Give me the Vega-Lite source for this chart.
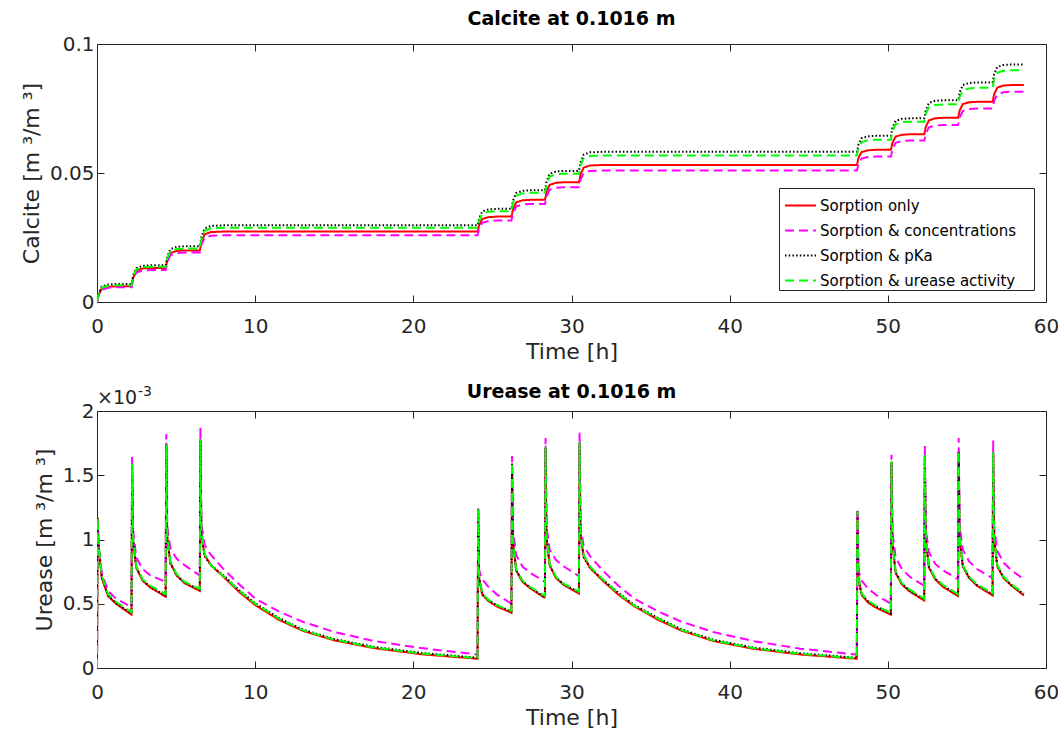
{
"$schema": "https://vega.github.io/schema/vega-lite/v6.json",
"background": "white",
"padding": {"left": 20, "top": 10, "right": 12, "bottom": 4},
"spacing": 21,
"resolve": {"scale": {"color": "independent", "strokeDash": "independent"}},
"config": {
  "font": "DejaVu Sans",
  "view": {"stroke": null},
  "axis": {"grid": false, "labelFlush": false, "domainColor": "#262626", "tickColor": "#262626", "labelColor": "#262626", "titleColor": "#262626", "labelFontSize": 20, "titleFontSize": 22, "titleFontWeight": "normal", "tickSize": -7, "labelFont": "DejaVu Sans", "titleFont": "DejaVu Sans"},
  "axisX": {"labelPadding": 21, "titlePadding": 5},
  "axisY": {"labelPadding": 10, "titlePadding": 6},
  "title": {"fontSize": 19, "fontWeight": "bold", "color": "#000000", "font": "DejaVu Sans"},
  "legend": {"orient": "bottom-right", "offset": 12, "strokeColor": "#262626", "fillColor": "white", "padding": 1, "labelFontSize": 15, "labelFont": "DejaVu Sans", "labelColor": "#000000", "symbolType": "stroke", "symbolSize": 961, "symbolStrokeWidth": 2, "rowPadding": -6.5, "symbolOffset": 4, "labelOffset": 3, "labelLimit": 400, "cornerRadius": 0, "titleOrient": "right", "titleFontSize": 1, "titlePadding": 17, "titleColor": "white"}
},
"datasets": {"d": [
{"t":0,"s":"Sorption only","c":0,"u":0},
{"t":0.04,"s":"Sorption only","c":0.0009,"u":1.17e-3},
{"t":0.1,"s":"Sorption only","c":0.0027,"u":0.95e-3},
{"t":0.3,"s":"Sorption only","c":0.0052,"u":0.70e-3},
{"t":0.7,"s":"Sorption only","c":0.0059,"u":0.56e-3},
{"t":1.2,"s":"Sorption only","c":0.0061,"u":0.50e-3},
{"t":2.18,"s":"Sorption only","c":0.0061,"u":0.415e-3},
{"t":2.22,"s":"Sorption only","c":0.0072,"u":1.58e-3},
{"t":2.28,"s":"Sorption only","c":0.0093,"u":1.0e-3},
{"t":2.48,"s":"Sorption only","c":0.0121,"u":0.78e-3},
{"t":2.88,"s":"Sorption only","c":0.0130,"u":0.68e-3},
{"t":3.38,"s":"Sorption only","c":0.0132,"u":0.625e-3},
{"t":4.34,"s":"Sorption only","c":0.0132,"u":0.555e-3},
{"t":4.38,"s":"Sorption only","c":0.0142,"u":1.73e-3},
{"t":4.44,"s":"Sorption only","c":0.0163,"u":1.02e-3},
{"t":4.64,"s":"Sorption only","c":0.0190,"u":0.82e-3},
{"t":5.04,"s":"Sorption only","c":0.0198,"u":0.72e-3},
{"t":5.54,"s":"Sorption only","c":0.0200,"u":0.66e-3},
{"t":6.5,"s":"Sorption only","c":0.0200,"u":0.60e-3},
{"t":6.54,"s":"Sorption only","c":0.0211,"u":1.77e-3},
{"t":6.6,"s":"Sorption only","c":0.0233,"u":1.05e-3},
{"t":6.8,"s":"Sorption only","c":0.0262,"u":0.88e-3},
{"t":7.2,"s":"Sorption only","c":0.0271,"u":0.80e-3},
{"t":8.0,"s":"Sorption only","c":0.0273,"u":0.71e-3},
{"t":9.0,"s":"Sorption only","c":0.0273,"u":0.59e-3},
{"t":10.0,"s":"Sorption only","c":0.0273,"u":0.49e-3},
{"t":11.5,"s":"Sorption only","c":0.0273,"u":0.375e-3},
{"t":13.0,"s":"Sorption only","c":0.0273,"u":0.29e-3},
{"t":15.0,"s":"Sorption only","c":0.0273,"u":0.215e-3},
{"t":17.5,"s":"Sorption only","c":0.0273,"u":0.155e-3},
{"t":20.5,"s":"Sorption only","c":0.0273,"u":0.107e-3},
{"t":24.06,"s":"Sorption only","c":0.0273,"u":0.072e-3},
{"t":24.1,"s":"Sorption only","c":0.0282,"u":1.24e-3},
{"t":24.16,"s":"Sorption only","c":0.0299,"u":0.70e-3},
{"t":24.36,"s":"Sorption only","c":0.0322,"u":0.57e-3},
{"t":24.76,"s":"Sorption only","c":0.0329,"u":0.52e-3},
{"t":25.26,"s":"Sorption only","c":0.0331,"u":0.48e-3},
{"t":26.2,"s":"Sorption only","c":0.0331,"u":0.43e-3},
{"t":26.24,"s":"Sorption only","c":0.0341,"u":1.59e-3},
{"t":26.3,"s":"Sorption only","c":0.0360,"u":1.0e-3},
{"t":26.5,"s":"Sorption only","c":0.0386,"u":0.76e-3},
{"t":26.9,"s":"Sorption only","c":0.0394,"u":0.67e-3},
{"t":27.4,"s":"Sorption only","c":0.0396,"u":0.62e-3},
{"t":28.32,"s":"Sorption only","c":0.0396,"u":0.545e-3},
{"t":28.36,"s":"Sorption only","c":0.0406,"u":1.71e-3},
{"t":28.42,"s":"Sorption only","c":0.0427,"u":1.02e-3},
{"t":28.62,"s":"Sorption only","c":0.0454,"u":0.80e-3},
{"t":29.02,"s":"Sorption only","c":0.0462,"u":0.70e-3},
{"t":29.52,"s":"Sorption only","c":0.0464,"u":0.645e-3},
{"t":30.47,"s":"Sorption only","c":0.0464,"u":0.58e-3},
{"t":30.51,"s":"Sorption only","c":0.0474,"u":1.75e-3},
{"t":30.57,"s":"Sorption only","c":0.0494,"u":1.04e-3},
{"t":30.77,"s":"Sorption only","c":0.0521,"u":0.87e-3},
{"t":31.17,"s":"Sorption only","c":0.0529,"u":0.78e-3},
{"t":31.97,"s":"Sorption only","c":0.0531,"u":0.68e-3},
{"t":32.97,"s":"Sorption only","c":0.0531,"u":0.57e-3},
{"t":33.97,"s":"Sorption only","c":0.0531,"u":0.48e-3},
{"t":35.47,"s":"Sorption only","c":0.0531,"u":0.375e-3},
{"t":36.97,"s":"Sorption only","c":0.0531,"u":0.29e-3},
{"t":38.97,"s":"Sorption only","c":0.0531,"u":0.21e-3},
{"t":41.47,"s":"Sorption only","c":0.0531,"u":0.15e-3},
{"t":44.47,"s":"Sorption only","c":0.0531,"u":0.105e-3},
{"t":48.04,"s":"Sorption only","c":0.0531,"u":0.072e-3},
{"t":48.08,"s":"Sorption only","c":0.0540,"u":1.22e-3},
{"t":48.14,"s":"Sorption only","c":0.0558,"u":0.70e-3},
{"t":48.34,"s":"Sorption only","c":0.0581,"u":0.57e-3},
{"t":48.74,"s":"Sorption only","c":0.0588,"u":0.51e-3},
{"t":49.24,"s":"Sorption only","c":0.0590,"u":0.47e-3},
{"t":50.19,"s":"Sorption only","c":0.0590,"u":0.415e-3},
{"t":50.23,"s":"Sorption only","c":0.0599,"u":1.60e-3},
{"t":50.29,"s":"Sorption only","c":0.0617,"u":0.98e-3},
{"t":50.49,"s":"Sorption only","c":0.0641,"u":0.74e-3},
{"t":50.89,"s":"Sorption only","c":0.0648,"u":0.65e-3},
{"t":51.39,"s":"Sorption only","c":0.0650,"u":0.595e-3},
{"t":52.3,"s":"Sorption only","c":0.0650,"u":0.525e-3},
{"t":52.34,"s":"Sorption only","c":0.0660,"u":1.65e-3},
{"t":52.4,"s":"Sorption only","c":0.0679,"u":1.0e-3},
{"t":52.6,"s":"Sorption only","c":0.0704,"u":0.78e-3},
{"t":53.0,"s":"Sorption only","c":0.0712,"u":0.69e-3},
{"t":53.5,"s":"Sorption only","c":0.0714,"u":0.63e-3},
{"t":54.44,"s":"Sorption only","c":0.0714,"u":0.56e-3},
{"t":54.48,"s":"Sorption only","c":0.0723,"u":1.68e-3},
{"t":54.54,"s":"Sorption only","c":0.0742,"u":1.01e-3},
{"t":54.74,"s":"Sorption only","c":0.0767,"u":0.79e-3},
{"t":55.14,"s":"Sorption only","c":0.0774,"u":0.70e-3},
{"t":55.64,"s":"Sorption only","c":0.0776,"u":0.64e-3},
{"t":56.62,"s":"Sorption only","c":0.0776,"u":0.565e-3},
{"t":56.66,"s":"Sorption only","c":0.0786,"u":1.67e-3},
{"t":56.72,"s":"Sorption only","c":0.0805,"u":1.01e-3},
{"t":56.92,"s":"Sorption only","c":0.0831,"u":0.79e-3},
{"t":57.32,"s":"Sorption only","c":0.0839,"u":0.70e-3},
{"t":57.82,"s":"Sorption only","c":0.0841,"u":0.64e-3},
{"t":58.6,"s":"Sorption only","c":0.0841,"u":0.565e-3},

{"t":0,"s":"Sorption & concentrations","c":0,"u":0},
{"t":0.04,"s":"Sorption & concentrations","c":0.0009,"u":1.16e-3},
{"t":0.1,"s":"Sorption & concentrations","c":0.0026,"u":0.96e-3},
{"t":0.3,"s":"Sorption & concentrations","c":0.0048,"u":0.74e-3},
{"t":0.7,"s":"Sorption & concentrations","c":0.0055,"u":0.60e-3},
{"t":1.2,"s":"Sorption & concentrations","c":0.0057,"u":0.54e-3},
{"t":2.18,"s":"Sorption & concentrations","c":0.0057,"u":0.475e-3},
{"t":2.22,"s":"Sorption & concentrations","c":0.0067,"u":1.65e-3},
{"t":2.28,"s":"Sorption & concentrations","c":0.0087,"u":1.08e-3},
{"t":2.48,"s":"Sorption & concentrations","c":0.0114,"u":0.86e-3},
{"t":2.88,"s":"Sorption & concentrations","c":0.0122,"u":0.77e-3},
{"t":3.38,"s":"Sorption & concentrations","c":0.0124,"u":0.72e-3},
{"t":4.34,"s":"Sorption & concentrations","c":0.0124,"u":0.67e-3},
{"t":4.38,"s":"Sorption & concentrations","c":0.0134,"u":1.82e-3},
{"t":4.44,"s":"Sorption & concentrations","c":0.0155,"u":1.1e-3},
{"t":4.64,"s":"Sorption & concentrations","c":0.0182,"u":0.93e-3},
{"t":5.04,"s":"Sorption & concentrations","c":0.0190,"u":0.85e-3},
{"t":5.54,"s":"Sorption & concentrations","c":0.0192,"u":0.80e-3},
{"t":6.5,"s":"Sorption & concentrations","c":0.0192,"u":0.72e-3},
{"t":6.54,"s":"Sorption & concentrations","c":0.0202,"u":1.87e-3},
{"t":6.6,"s":"Sorption & concentrations","c":0.0222,"u":1.12e-3},
{"t":6.8,"s":"Sorption & concentrations","c":0.0249,"u":0.96e-3},
{"t":7.2,"s":"Sorption & concentrations","c":0.0257,"u":0.88e-3},
{"t":8.0,"s":"Sorption & concentrations","c":0.0259,"u":0.77e-3},
{"t":9.0,"s":"Sorption & concentrations","c":0.0259,"u":0.65e-3},
{"t":10.0,"s":"Sorption & concentrations","c":0.0259,"u":0.54e-3},
{"t":11.5,"s":"Sorption & concentrations","c":0.0259,"u":0.44e-3},
{"t":13.0,"s":"Sorption & concentrations","c":0.0259,"u":0.36e-3},
{"t":15.0,"s":"Sorption & concentrations","c":0.0259,"u":0.28e-3},
{"t":17.5,"s":"Sorption & concentrations","c":0.0259,"u":0.21e-3},
{"t":20.5,"s":"Sorption & concentrations","c":0.0259,"u":0.155e-3},
{"t":24.06,"s":"Sorption & concentrations","c":0.0259,"u":0.105e-3},
{"t":24.1,"s":"Sorption & concentrations","c":0.0268,"u":1.25e-3},
{"t":24.16,"s":"Sorption & concentrations","c":0.0285,"u":0.76e-3},
{"t":24.36,"s":"Sorption & concentrations","c":0.0307,"u":0.69e-3},
{"t":24.76,"s":"Sorption & concentrations","c":0.0314,"u":0.63e-3},
{"t":25.26,"s":"Sorption & concentrations","c":0.0316,"u":0.575e-3},
{"t":26.2,"s":"Sorption & concentrations","c":0.0316,"u":0.50e-3},
{"t":26.24,"s":"Sorption & concentrations","c":0.0326,"u":1.65e-3},
{"t":26.3,"s":"Sorption & concentrations","c":0.0345,"u":1.08e-3},
{"t":26.5,"s":"Sorption & concentrations","c":0.0370,"u":0.88e-3},
{"t":26.9,"s":"Sorption & concentrations","c":0.0378,"u":0.79e-3},
{"t":27.4,"s":"Sorption & concentrations","c":0.0380,"u":0.74e-3},
{"t":28.32,"s":"Sorption & concentrations","c":0.0380,"u":0.67e-3},
{"t":28.36,"s":"Sorption & concentrations","c":0.0390,"u":1.79e-3},
{"t":28.42,"s":"Sorption & concentrations","c":0.0409,"u":1.1e-3},
{"t":28.62,"s":"Sorption & concentrations","c":0.0435,"u":0.92e-3},
{"t":29.02,"s":"Sorption & concentrations","c":0.0443,"u":0.84e-3},
{"t":29.52,"s":"Sorption & concentrations","c":0.0445,"u":0.79e-3},
{"t":30.47,"s":"Sorption & concentrations","c":0.0445,"u":0.715e-3},
{"t":30.51,"s":"Sorption & concentrations","c":0.0455,"u":1.83e-3},
{"t":30.57,"s":"Sorption & concentrations","c":0.0474,"u":1.1e-3},
{"t":30.77,"s":"Sorption & concentrations","c":0.0500,"u":0.95e-3},
{"t":31.17,"s":"Sorption & concentrations","c":0.0508,"u":0.87e-3},
{"t":31.97,"s":"Sorption & concentrations","c":0.0510,"u":0.76e-3},
{"t":32.97,"s":"Sorption & concentrations","c":0.0510,"u":0.64e-3},
{"t":33.97,"s":"Sorption & concentrations","c":0.0510,"u":0.54e-3},
{"t":35.47,"s":"Sorption & concentrations","c":0.0510,"u":0.44e-3},
{"t":36.97,"s":"Sorption & concentrations","c":0.0510,"u":0.36e-3},
{"t":38.97,"s":"Sorption & concentrations","c":0.0510,"u":0.28e-3},
{"t":41.47,"s":"Sorption & concentrations","c":0.0510,"u":0.21e-3},
{"t":44.47,"s":"Sorption & concentrations","c":0.0510,"u":0.15e-3},
{"t":48.04,"s":"Sorption & concentrations","c":0.0510,"u":0.105e-3},
{"t":48.08,"s":"Sorption & concentrations","c":0.0518,"u":1.24e-3},
{"t":48.14,"s":"Sorption & concentrations","c":0.0534,"u":0.76e-3},
{"t":48.34,"s":"Sorption & concentrations","c":0.0556,"u":0.68e-3},
{"t":48.74,"s":"Sorption & concentrations","c":0.0562,"u":0.62e-3},
{"t":49.24,"s":"Sorption & concentrations","c":0.0564,"u":0.57e-3},
{"t":50.19,"s":"Sorption & concentrations","c":0.0564,"u":0.50e-3},
{"t":50.23,"s":"Sorption & concentrations","c":0.0573,"u":1.66e-3},
{"t":50.29,"s":"Sorption & concentrations","c":0.0592,"u":1.06e-3},
{"t":50.49,"s":"Sorption & concentrations","c":0.0617,"u":0.86e-3},
{"t":50.89,"s":"Sorption & concentrations","c":0.0624,"u":0.77e-3},
{"t":51.39,"s":"Sorption & concentrations","c":0.0626,"u":0.71e-3},
{"t":52.3,"s":"Sorption & concentrations","c":0.0626,"u":0.64e-3},
{"t":52.34,"s":"Sorption & concentrations","c":0.0635,"u":1.73e-3},
{"t":52.4,"s":"Sorption & concentrations","c":0.0653,"u":1.08e-3},
{"t":52.6,"s":"Sorption & concentrations","c":0.0677,"u":0.90e-3},
{"t":53.0,"s":"Sorption & concentrations","c":0.0684,"u":0.81e-3},
{"t":53.5,"s":"Sorption & concentrations","c":0.0686,"u":0.76e-3},
{"t":54.44,"s":"Sorption & concentrations","c":0.0686,"u":0.69e-3},
{"t":54.48,"s":"Sorption & concentrations","c":0.0696,"u":1.79e-3},
{"t":54.54,"s":"Sorption & concentrations","c":0.0715,"u":1.1e-3},
{"t":54.74,"s":"Sorption & concentrations","c":0.0740,"u":0.92e-3},
{"t":55.14,"s":"Sorption & concentrations","c":0.0748,"u":0.83e-3},
{"t":55.64,"s":"Sorption & concentrations","c":0.0750,"u":0.77e-3},
{"t":56.62,"s":"Sorption & concentrations","c":0.0750,"u":0.70e-3},
{"t":56.66,"s":"Sorption & concentrations","c":0.0760,"u":1.77e-3},
{"t":56.72,"s":"Sorption & concentrations","c":0.0779,"u":1.1e-3},
{"t":56.92,"s":"Sorption & concentrations","c":0.0805,"u":0.91e-3},
{"t":57.32,"s":"Sorption & concentrations","c":0.0813,"u":0.82e-3},
{"t":57.82,"s":"Sorption & concentrations","c":0.0815,"u":0.76e-3},
{"t":58.6,"s":"Sorption & concentrations","c":0.0815,"u":0.69e-3},

{"t":0,"s":"Sorption & pKa","c":0,"u":0},
{"t":0.04,"s":"Sorption & pKa","c":0.0011,"u":1.17e-3},
{"t":0.1,"s":"Sorption & pKa","c":0.0032,"u":0.95e-3},
{"t":0.3,"s":"Sorption & pKa","c":0.0060,"u":0.71e-3},
{"t":0.7,"s":"Sorption & pKa","c":0.0068,"u":0.565e-3},
{"t":1.2,"s":"Sorption & pKa","c":0.0070,"u":0.505e-3},
{"t":2.18,"s":"Sorption & pKa","c":0.0070,"u":0.425e-3},
{"t":2.22,"s":"Sorption & pKa","c":0.0081,"u":1.58e-3},
{"t":2.28,"s":"Sorption & pKa","c":0.0102,"u":1.0e-3},
{"t":2.48,"s":"Sorption & pKa","c":0.0131,"u":0.785e-3},
{"t":2.88,"s":"Sorption & pKa","c":0.0140,"u":0.685e-3},
{"t":3.38,"s":"Sorption & pKa","c":0.0142,"u":0.63e-3},
{"t":4.34,"s":"Sorption & pKa","c":0.0142,"u":0.565e-3},
{"t":4.38,"s":"Sorption & pKa","c":0.0153,"u":1.74e-3},
{"t":4.44,"s":"Sorption & pKa","c":0.0175,"u":1.02e-3},
{"t":4.64,"s":"Sorption & pKa","c":0.0205,"u":0.81e-3},
{"t":5.04,"s":"Sorption & pKa","c":0.0214,"u":0.72e-3},
{"t":5.54,"s":"Sorption & pKa","c":0.0216,"u":0.665e-3},
{"t":6.5,"s":"Sorption & pKa","c":0.0216,"u":0.61e-3},
{"t":6.54,"s":"Sorption & pKa","c":0.0228,"u":1.77e-3},
{"t":6.6,"s":"Sorption & pKa","c":0.0252,"u":1.04e-3},
{"t":6.8,"s":"Sorption & pKa","c":0.0285,"u":0.87e-3},
{"t":7.2,"s":"Sorption & pKa","c":0.0295,"u":0.80e-3},
{"t":8.0,"s":"Sorption & pKa","c":0.0297,"u":0.72e-3},
{"t":9.0,"s":"Sorption & pKa","c":0.0297,"u":0.605e-3},
{"t":10.0,"s":"Sorption & pKa","c":0.0297,"u":0.505e-3},
{"t":11.5,"s":"Sorption & pKa","c":0.0297,"u":0.39e-3},
{"t":13.0,"s":"Sorption & pKa","c":0.0297,"u":0.30e-3},
{"t":15.0,"s":"Sorption & pKa","c":0.0297,"u":0.225e-3},
{"t":17.5,"s":"Sorption & pKa","c":0.0297,"u":0.165e-3},
{"t":20.5,"s":"Sorption & pKa","c":0.0297,"u":0.118e-3},
{"t":24.06,"s":"Sorption & pKa","c":0.0297,"u":0.08e-3},
{"t":24.1,"s":"Sorption & pKa","c":0.0307,"u":1.24e-3},
{"t":24.16,"s":"Sorption & pKa","c":0.0326,"u":0.70e-3},
{"t":24.36,"s":"Sorption & pKa","c":0.0351,"u":0.575e-3},
{"t":24.76,"s":"Sorption & pKa","c":0.0359,"u":0.525e-3},
{"t":25.26,"s":"Sorption & pKa","c":0.0361,"u":0.49e-3},
{"t":26.2,"s":"Sorption & pKa","c":0.0361,"u":0.44e-3},
{"t":26.24,"s":"Sorption & pKa","c":0.0372,"u":1.59e-3},
{"t":26.3,"s":"Sorption & pKa","c":0.0393,"u":1.0e-3},
{"t":26.5,"s":"Sorption & pKa","c":0.0422,"u":0.76e-3},
{"t":26.9,"s":"Sorption & pKa","c":0.0431,"u":0.675e-3},
{"t":27.4,"s":"Sorption & pKa","c":0.0433,"u":0.625e-3},
{"t":28.32,"s":"Sorption & pKa","c":0.0433,"u":0.55e-3},
{"t":28.36,"s":"Sorption & pKa","c":0.0444,"u":1.71e-3},
{"t":28.42,"s":"Sorption & pKa","c":0.0467,"u":1.02e-3},
{"t":28.62,"s":"Sorption & pKa","c":0.0497,"u":0.80e-3},
{"t":29.02,"s":"Sorption & pKa","c":0.0506,"u":0.705e-3},
{"t":29.52,"s":"Sorption & pKa","c":0.0508,"u":0.65e-3},
{"t":30.47,"s":"Sorption & pKa","c":0.0508,"u":0.59e-3},
{"t":30.51,"s":"Sorption & pKa","c":0.0519,"u":1.75e-3},
{"t":30.57,"s":"Sorption & pKa","c":0.0541,"u":1.03e-3},
{"t":30.77,"s":"Sorption & pKa","c":0.0571,"u":0.86e-3},
{"t":31.17,"s":"Sorption & pKa","c":0.0580,"u":0.78e-3},
{"t":31.97,"s":"Sorption & pKa","c":0.0582,"u":0.69e-3},
{"t":32.97,"s":"Sorption & pKa","c":0.0582,"u":0.585e-3},
{"t":33.97,"s":"Sorption & pKa","c":0.0582,"u":0.49e-3},
{"t":35.47,"s":"Sorption & pKa","c":0.0582,"u":0.39e-3},
{"t":36.97,"s":"Sorption & pKa","c":0.0582,"u":0.30e-3},
{"t":38.97,"s":"Sorption & pKa","c":0.0582,"u":0.22e-3},
{"t":41.47,"s":"Sorption & pKa","c":0.0582,"u":0.16e-3},
{"t":44.47,"s":"Sorption & pKa","c":0.0582,"u":0.115e-3},
{"t":48.04,"s":"Sorption & pKa","c":0.0582,"u":0.08e-3},
{"t":48.08,"s":"Sorption & pKa","c":0.0591,"u":1.22e-3},
{"t":48.14,"s":"Sorption & pKa","c":0.0610,"u":0.70e-3},
{"t":48.34,"s":"Sorption & pKa","c":0.0635,"u":0.575e-3},
{"t":48.74,"s":"Sorption & pKa","c":0.0642,"u":0.52e-3},
{"t":49.24,"s":"Sorption & pKa","c":0.0644,"u":0.48e-3},
{"t":50.19,"s":"Sorption & pKa","c":0.0644,"u":0.425e-3},
{"t":50.23,"s":"Sorption & pKa","c":0.0654,"u":1.60e-3},
{"t":50.29,"s":"Sorption & pKa","c":0.0675,"u":0.98e-3},
{"t":50.49,"s":"Sorption & pKa","c":0.0702,"u":0.745e-3},
{"t":50.89,"s":"Sorption & pKa","c":0.0710,"u":0.655e-3},
{"t":51.39,"s":"Sorption & pKa","c":0.0712,"u":0.60e-3},
{"t":52.3,"s":"Sorption & pKa","c":0.0712,"u":0.535e-3},
{"t":52.34,"s":"Sorption & pKa","c":0.0723,"u":1.66e-3},
{"t":52.4,"s":"Sorption & pKa","c":0.0744,"u":1.0e-3},
{"t":52.6,"s":"Sorption & pKa","c":0.0772,"u":0.785e-3},
{"t":53.0,"s":"Sorption & pKa","c":0.0780,"u":0.695e-3},
{"t":53.5,"s":"Sorption & pKa","c":0.0782,"u":0.64e-3},
{"t":54.44,"s":"Sorption & pKa","c":0.0782,"u":0.57e-3},
{"t":54.48,"s":"Sorption & pKa","c":0.0792,"u":1.68e-3},
{"t":54.54,"s":"Sorption & pKa","c":0.0813,"u":1.01e-3},
{"t":54.74,"s":"Sorption & pKa","c":0.0841,"u":0.795e-3},
{"t":55.14,"s":"Sorption & pKa","c":0.0849,"u":0.705e-3},
{"t":55.64,"s":"Sorption & pKa","c":0.0851,"u":0.645e-3},
{"t":56.62,"s":"Sorption & pKa","c":0.0851,"u":0.575e-3},
{"t":56.66,"s":"Sorption & pKa","c":0.0862,"u":1.67e-3},
{"t":56.72,"s":"Sorption & pKa","c":0.0883,"u":1.01e-3},
{"t":56.92,"s":"Sorption & pKa","c":0.0911,"u":0.795e-3},
{"t":57.32,"s":"Sorption & pKa","c":0.0919,"u":0.705e-3},
{"t":57.82,"s":"Sorption & pKa","c":0.0921,"u":0.645e-3},
{"t":58.6,"s":"Sorption & pKa","c":0.0921,"u":0.575e-3},

{"t":0,"s":"Sorption & urease activity","c":0,"u":0},
{"t":0.04,"s":"Sorption & urease activity","c":0.0010,"u":1.17e-3},
{"t":0.1,"s":"Sorption & urease activity","c":0.0029,"u":0.97e-3},
{"t":0.3,"s":"Sorption & urease activity","c":0.0055,"u":0.72e-3},
{"t":0.7,"s":"Sorption & urease activity","c":0.0063,"u":0.575e-3},
{"t":1.2,"s":"Sorption & urease activity","c":0.0065,"u":0.515e-3},
{"t":2.18,"s":"Sorption & urease activity","c":0.0065,"u":0.435e-3},
{"t":2.22,"s":"Sorption & urease activity","c":0.0076,"u":1.59e-3},
{"t":2.28,"s":"Sorption & urease activity","c":0.0097,"u":1.02e-3},
{"t":2.48,"s":"Sorption & urease activity","c":0.0126,"u":0.79e-3},
{"t":2.88,"s":"Sorption & urease activity","c":0.0135,"u":0.69e-3},
{"t":3.38,"s":"Sorption & urease activity","c":0.0137,"u":0.64e-3},
{"t":4.34,"s":"Sorption & urease activity","c":0.0137,"u":0.575e-3},
{"t":4.38,"s":"Sorption & urease activity","c":0.0148,"u":1.74e-3},
{"t":4.44,"s":"Sorption & urease activity","c":0.0169,"u":1.03e-3},
{"t":4.64,"s":"Sorption & urease activity","c":0.0197,"u":0.83e-3},
{"t":5.04,"s":"Sorption & urease activity","c":0.0205,"u":0.73e-3},
{"t":5.54,"s":"Sorption & urease activity","c":0.0207,"u":0.67e-3},
{"t":6.5,"s":"Sorption & urease activity","c":0.0207,"u":0.615e-3},
{"t":6.54,"s":"Sorption & urease activity","c":0.0219,"u":1.78e-3},
{"t":6.6,"s":"Sorption & urease activity","c":0.0243,"u":1.06e-3},
{"t":6.8,"s":"Sorption & urease activity","c":0.0276,"u":0.89e-3},
{"t":7.2,"s":"Sorption & urease activity","c":0.0286,"u":0.80e-3},
{"t":8.0,"s":"Sorption & urease activity","c":0.0288,"u":0.715e-3},
{"t":9.0,"s":"Sorption & urease activity","c":0.0288,"u":0.60e-3},
{"t":10.0,"s":"Sorption & urease activity","c":0.0288,"u":0.50e-3},
{"t":11.5,"s":"Sorption & urease activity","c":0.0288,"u":0.385e-3},
{"t":13.0,"s":"Sorption & urease activity","c":0.0288,"u":0.295e-3},
{"t":15.0,"s":"Sorption & urease activity","c":0.0288,"u":0.22e-3},
{"t":17.5,"s":"Sorption & urease activity","c":0.0288,"u":0.16e-3},
{"t":20.5,"s":"Sorption & urease activity","c":0.0288,"u":0.113e-3},
{"t":24.06,"s":"Sorption & urease activity","c":0.0288,"u":0.076e-3},
{"t":24.1,"s":"Sorption & urease activity","c":0.0298,"u":1.24e-3},
{"t":24.16,"s":"Sorption & urease activity","c":0.0317,"u":0.71e-3},
{"t":24.36,"s":"Sorption & urease activity","c":0.0342,"u":0.58e-3},
{"t":24.76,"s":"Sorption & urease activity","c":0.0350,"u":0.53e-3},
{"t":25.26,"s":"Sorption & urease activity","c":0.0352,"u":0.49e-3},
{"t":26.2,"s":"Sorption & urease activity","c":0.0352,"u":0.445e-3},
{"t":26.24,"s":"Sorption & urease activity","c":0.0363,"u":1.60e-3},
{"t":26.3,"s":"Sorption & urease activity","c":0.0384,"u":1.01e-3},
{"t":26.5,"s":"Sorption & urease activity","c":0.0412,"u":0.77e-3},
{"t":26.9,"s":"Sorption & urease activity","c":0.0421,"u":0.68e-3},
{"t":27.4,"s":"Sorption & urease activity","c":0.0423,"u":0.63e-3},
{"t":28.32,"s":"Sorption & urease activity","c":0.0423,"u":0.56e-3},
{"t":28.36,"s":"Sorption & urease activity","c":0.0434,"u":1.72e-3},
{"t":28.42,"s":"Sorption & urease activity","c":0.0456,"u":1.03e-3},
{"t":28.62,"s":"Sorption & urease activity","c":0.0486,"u":0.81e-3},
{"t":29.02,"s":"Sorption & urease activity","c":0.0495,"u":0.71e-3},
{"t":29.52,"s":"Sorption & urease activity","c":0.0497,"u":0.655e-3},
{"t":30.47,"s":"Sorption & urease activity","c":0.0497,"u":0.595e-3},
{"t":30.51,"s":"Sorption & urease activity","c":0.0508,"u":1.76e-3},
{"t":30.57,"s":"Sorption & urease activity","c":0.0529,"u":1.05e-3},
{"t":30.77,"s":"Sorption & urease activity","c":0.0557,"u":0.88e-3},
{"t":31.17,"s":"Sorption & urease activity","c":0.0566,"u":0.79e-3},
{"t":31.97,"s":"Sorption & urease activity","c":0.0568,"u":0.69e-3},
{"t":32.97,"s":"Sorption & urease activity","c":0.0568,"u":0.58e-3},
{"t":33.97,"s":"Sorption & urease activity","c":0.0568,"u":0.485e-3},
{"t":35.47,"s":"Sorption & urease activity","c":0.0568,"u":0.385e-3},
{"t":36.97,"s":"Sorption & urease activity","c":0.0568,"u":0.295e-3},
{"t":38.97,"s":"Sorption & urease activity","c":0.0568,"u":0.215e-3},
{"t":41.47,"s":"Sorption & urease activity","c":0.0568,"u":0.155e-3},
{"t":44.47,"s":"Sorption & urease activity","c":0.0568,"u":0.11e-3},
{"t":48.04,"s":"Sorption & urease activity","c":0.0568,"u":0.076e-3},
{"t":48.08,"s":"Sorption & urease activity","c":0.0577,"u":1.22e-3},
{"t":48.14,"s":"Sorption & urease activity","c":0.0595,"u":0.71e-3},
{"t":48.34,"s":"Sorption & urease activity","c":0.0620,"u":0.58e-3},
{"t":48.74,"s":"Sorption & urease activity","c":0.0627,"u":0.525e-3},
{"t":49.24,"s":"Sorption & urease activity","c":0.0629,"u":0.485e-3},
{"t":50.19,"s":"Sorption & urease activity","c":0.0629,"u":0.43e-3},
{"t":50.23,"s":"Sorption & urease activity","c":0.0640,"u":1.61e-3},
{"t":50.29,"s":"Sorption & urease activity","c":0.0661,"u":0.99e-3},
{"t":50.49,"s":"Sorption & urease activity","c":0.0689,"u":0.75e-3},
{"t":50.89,"s":"Sorption & urease activity","c":0.0697,"u":0.66e-3},
{"t":51.39,"s":"Sorption & urease activity","c":0.0699,"u":0.61e-3},
{"t":52.3,"s":"Sorption & urease activity","c":0.0699,"u":0.54e-3},
{"t":52.34,"s":"Sorption & urease activity","c":0.0709,"u":1.66e-3},
{"t":52.4,"s":"Sorption & urease activity","c":0.0729,"u":1.01e-3},
{"t":52.6,"s":"Sorption & urease activity","c":0.0756,"u":0.79e-3},
{"t":53.0,"s":"Sorption & urease activity","c":0.0764,"u":0.70e-3},
{"t":53.5,"s":"Sorption & urease activity","c":0.0766,"u":0.645e-3},
{"t":54.44,"s":"Sorption & urease activity","c":0.0766,"u":0.575e-3},
{"t":54.48,"s":"Sorption & urease activity","c":0.0776,"u":1.69e-3},
{"t":54.54,"s":"Sorption & urease activity","c":0.0795,"u":1.02e-3},
{"t":54.74,"s":"Sorption & urease activity","c":0.0820,"u":0.80e-3},
{"t":55.14,"s":"Sorption & urease activity","c":0.0828,"u":0.71e-3},
{"t":55.64,"s":"Sorption & urease activity","c":0.0830,"u":0.65e-3},
{"t":56.62,"s":"Sorption & urease activity","c":0.0830,"u":0.58e-3},
{"t":56.66,"s":"Sorption & urease activity","c":0.0840,"u":1.68e-3},
{"t":56.72,"s":"Sorption & urease activity","c":0.0861,"u":1.02e-3},
{"t":56.92,"s":"Sorption & urease activity","c":0.0888,"u":0.80e-3},
{"t":57.32,"s":"Sorption & urease activity","c":0.0896,"u":0.71e-3},
{"t":57.82,"s":"Sorption & urease activity","c":0.0898,"u":0.65e-3},
{"t":58.6,"s":"Sorption & urease activity","c":0.0898,"u":0.58e-3}
]},
"vconcat": [
 {
  "width": 949, "height": 258,
  "title": {"text": "Calcite at 0.1016 m", "offset": 5},
  "data": {"name": "d"},
  "layer": [
   {
    "mark": {"type": "line", "strokeWidth": 2, "clip": true},
    "encoding": {
     "x": {"field": "t", "type": "quantitative", "scale": {"domain": [0, 60], "nice": false}, "axis": {"values": [0, 10, 20, 30, 40, 50, 60], "title": "Time [h]"}},
     "y": {"field": "c", "type": "quantitative", "scale": {"domain": [0, 0.1], "nice": false}, "axis": {"values": [0, 0.05, 0.1], "format": "~g", "title": "Calcite [m ³/m ³]"}},
     "color": {"field": "s", "type": "nominal", "title": "\u00a0", "scale": {"domain": ["Sorption only", "Sorption & concentrations", "Sorption & pKa", "Sorption & urease activity"], "range": ["#ff0000", "#ff00ff", "#000000", "#00ff00"]}},
     "strokeDash": {"field": "s", "type": "nominal", "title": "\u00a0", "scale": {"domain": ["Sorption only", "Sorption & concentrations", "Sorption & pKa", "Sorption & urease activity"], "range": [[1, 0], [9, 5], [1.5, 2.2], [9, 5]]}}
    }
   },
   {
    "mark": {"type": "point", "opacity": 0},
    "encoding": {
     "x": {"field": "t", "type": "quantitative", "scale": {"domain": [0, 60], "nice": false}, "axis": {"orient": "top", "values": [0, 10, 20, 30, 40, 50, 60], "labels": false, "title": null, "labelPadding": 0}},
     "y": {"field": "c", "type": "quantitative", "scale": {"domain": [0, 0.1], "nice": false}, "axis": {"orient": "right", "values": [0, 0.05, 0.1], "labels": false, "title": null, "labelPadding": 0}}
    }
   }
  ],
  "resolve": {"axis": {"x": "independent", "y": "independent"}}
 },
 {
  "width": 949, "height": 257,
  "title": {"text": "Urease at 0.1016 m", "offset": -17},
  "layer": [
   {
    "data": {"name": "d"},
    "mark": {"type": "line", "strokeWidth": 2, "clip": true},
    "encoding": {
     "x": {"field": "t", "type": "quantitative", "scale": {"domain": [0, 60], "nice": false}, "axis": {"values": [0, 10, 20, 30, 40, 50, 60], "title": "Time [h]"}},
     "y": {"field": "u", "type": "quantitative", "scale": {"domain": [0, 0.002], "nice": false}, "axis": {"values": [0, 0.0005, 0.001, 0.0015, 0.002], "labelExpr": "format(datum.value*1000, '~g')", "title": "Urease [m ³/m ³]"}},
     "color": {"field": "s", "type": "nominal", "legend": null, "scale": {"domain": ["Sorption only", "Sorption & concentrations", "Sorption & pKa", "Sorption & urease activity"], "range": ["#ff0000", "#ff00ff", "#000000", "#00ff00"]}},
     "strokeDash": {"field": "s", "type": "nominal", "legend": null, "scale": {"domain": ["Sorption only", "Sorption & concentrations", "Sorption & pKa", "Sorption & urease activity"], "range": [[1, 0], [9, 5], [1.5, 2.2], [9, 5]]}}
    }
   },
   {
    "data": {"name": "d"},
    "mark": {"type": "point", "opacity": 0},
    "encoding": {
     "x": {"field": "t", "type": "quantitative", "scale": {"domain": [0, 60], "nice": false}, "axis": {"orient": "top", "values": [0, 10, 20, 30, 40, 50, 60], "labels": false, "title": null, "labelPadding": 0}},
     "y": {"field": "u", "type": "quantitative", "scale": {"domain": [0, 0.002], "nice": false}, "axis": {"orient": "right", "values": [0, 0.0005, 0.001, 0.0015, 0.002], "labels": false, "title": null, "labelPadding": 0}}
    }
   },
   {
    "data": {"values": [{"x": 0, "y": 0.002, "label": "×10"}]},
    "mark": {"type": "text", "align": "left", "baseline": "alphabetic", "dy": -7, "fontSize": 19, "color": "#262626", "font": "DejaVu Sans"},
    "encoding": {
     "x": {"field": "x", "type": "quantitative", "scale": {"domain": [0, 60], "nice": false}, "axis": null},
     "y": {"field": "y", "type": "quantitative", "scale": {"domain": [0, 0.002], "nice": false}, "axis": null},
     "text": {"field": "label"}
    }
   },
   {
    "data": {"values": [{"x": 0, "y": 0.002, "label": "-3"}]},
    "mark": {"type": "text", "align": "left", "baseline": "alphabetic", "dx": 41, "dy": -15, "fontSize": 14, "color": "#262626", "font": "DejaVu Sans"},
    "encoding": {
     "x": {"field": "x", "type": "quantitative", "scale": {"domain": [0, 60], "nice": false}, "axis": null},
     "y": {"field": "y", "type": "quantitative", "scale": {"domain": [0, 0.002], "nice": false}, "axis": null},
     "text": {"field": "label"}
    }
   }
  ],
  "resolve": {"axis": {"x": "independent", "y": "independent"}}
 }
]
}
